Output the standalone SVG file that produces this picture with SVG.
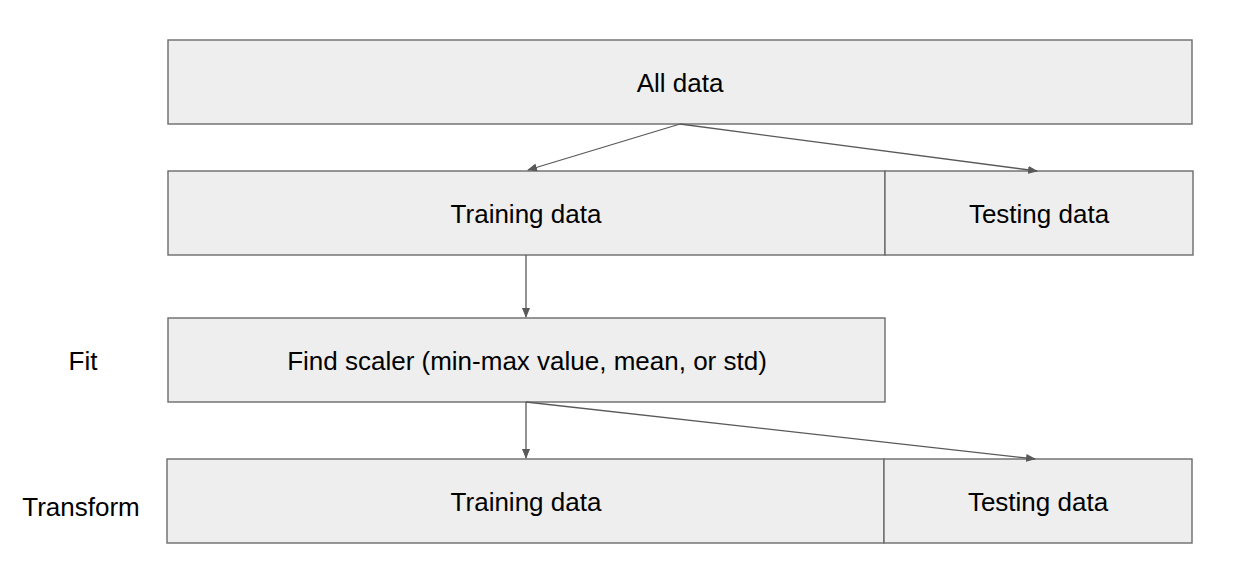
<svg xmlns="http://www.w3.org/2000/svg" width="1252" height="582" viewBox="0 0 1252 582">
<defs>
<style>
.box{fill:#eeeeee;stroke:#6b6b6b;stroke-width:1.4}
.t{font-family:"Liberation Sans",Arial,sans-serif;font-size:26px;fill:#000;text-anchor:middle}
.c{stroke:#595959;stroke-width:1.3;fill:none}
</style>
<marker id="ah" markerWidth="10" markerHeight="8" refX="9" refY="4" orient="auto" markerUnits="userSpaceOnUse">
<path d="M0,0 L10,4 L0,8 Z" fill="#595959"/>
</marker>
</defs>
<rect width="1252" height="582" fill="#ffffff"/>
<g id="all-data"><rect class="box" x="168" y="40" width="1024" height="84"/><text class="t" x="680" y="92">All data</text></g>
<g id="training-1"><rect class="box" x="168" y="171" width="717" height="84"/><text class="t" x="526" y="223">Training data</text></g>
<g id="testing-1"><rect class="box" x="885" y="171" width="308" height="84"/><text class="t" x="1039" y="223">Testing data</text></g>
<g id="fit"><rect class="box" x="168" y="318" width="717" height="84"/><text class="t" x="527" y="370">Find scaler (min-max value, mean, or std)</text></g>
<g id="training-2"><rect class="box" x="167" y="459" width="717" height="84"/><text class="t" x="526" y="511">Training data</text></g>
<g id="testing-2"><rect class="box" x="884" y="459" width="308" height="84"/><text class="t" x="1038" y="511">Testing data</text></g>
<g id="label-fit"><text class="t" x="83" y="370">Fit</text></g>
<g id="label-transform"><text class="t" x="81" y="516">Transform</text></g>
<g id="connectors">
<line class="c" x1="680" y1="124" x2="528" y2="170" marker-end="url(#ah)"/>
<line class="c" x1="680" y1="124" x2="1037" y2="171" marker-end="url(#ah)"/>
<line class="c" x1="526" y1="255" x2="526" y2="317" marker-end="url(#ah)"/>
<line class="c" x1="526" y1="402" x2="526" y2="458" marker-end="url(#ah)"/>
<line class="c" x1="526" y1="402" x2="1035" y2="459" marker-end="url(#ah)"/>
</g>
</svg>
